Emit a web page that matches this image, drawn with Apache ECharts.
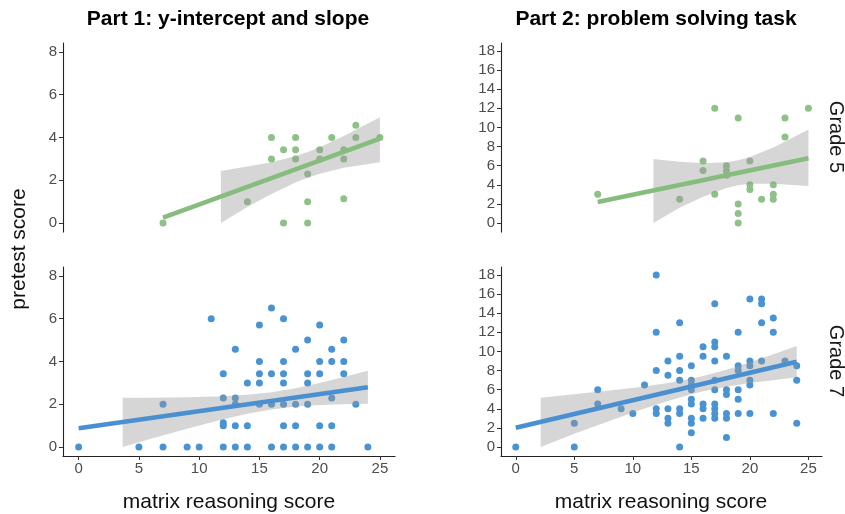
<!DOCTYPE html>
<html>
<head>
<meta charset="utf-8">
<script src="https://cdn.jsdelivr.net/npm/echarts@6/dist/echarts.min.js"></script>
<style>html,body{margin:0;padding:0;background:#fff}#c{width:845px;height:514px}</style>
</head>
<body>
<div id="c"></div>
<script>
// ---------- data ----------
const panelTitles = ['Part 1: y-intercept and slope', 'Part 2: problem solving task'];
const stripLabels = ['Grade 5', 'Grade 7'];
const xAxisTitle = 'matrix reasoning score';
const yAxisTitle = 'pretest score';
const xTicks = [0, 5, 10, 15, 20, 25];
const yTicksPart1 = [0, 2, 4, 6, 8];
const yTicksPart2 = [0, 2, 4, 6, 8, 10, 12, 14, 16, 18];

// Part 1, Grade 5
const p1g5X = [7,14,16,16,17,17,18,18,18,19,19,19,20,20,21,22,22,22,23,23,25];
const p1g5Y = [0,1,4,3,3.43,0,4,3.43,3,2.29,1,0,3.43,3,4,3.43,3,1.14,4.57,4,4];
const p1g5Fit = [[7,0.25],[25,3.95]];
const p1g5BandX  = [11.8,14,16,18,19,20,22,25];
const p1g5BandLo = [0,0.75,1.36,1.89,2.12,2.30,2.59,2.84];
const p1g5BandHi = [2.43,2.64,2.84,3.13,3.32,3.54,4.07,4.95];

// Part 2, Grade 5
const p2g5X = [7,14,16,16,17,17,18,18,18,19,19,19,19,20,20,20,21,22,22,22,23,23,25];
const p2g5Y = [3,2.5,6.5,5.5,12,3,6,5.5,5,11,2,1,0,6.5,4,3.5,2.5,4,3,2.5,11,9,12];
const p2g5Fit = [[7,2.2],[25,6.77]];
const p2g5BandX  = [11.76,14,16,18,19,20,22,25];
const p2g5BandLo = [0,1.59,2.74,3.67,3.96,4.11,4.12,3.87];
const p2g5BandHi = [6.69,6.41,6.26,6.35,6.56,6.91,7.90,9.80];

// Part 1, Grade 7
const p1g7X = [0,5,7,7,9,10,11,12,12,12,12,12,13,13,13,13,13,14,14,14,15,15,15,15,15,16,16,16,16,
  17,17,17,17,17,17,17,18,18,18,18,19,19,19,19,19,20,20,20,20,20,21,21,21,21,21,22,22,22,23,24];
const p1g7Y = [0,0,0,2,0,0,6,0,1,1.14,2.29,3.43,0,1,2,2.29,4.57,0,1,3,5.71,4,3.43,3,2,6.5,3.43,2,0,
  6,4,3.43,3,2,1,0,4.57,2,1,0,5,3.43,3,2,0,5.71,4,3.43,1,0,4.57,4,2.29,1,0,5,4,3.43,2,0];
const p1g7Fit = [[0,0.88],[24,2.80]];
const p1g7BandX  = [3.65,6,9,12,14,16,18,20,22,24];
const p1g7BandLo = [0,0.39,0.85,1.30,1.56,1.76,1.89,1.96,2.00,2.02];
const p1g7BandHi = [2.31,2.31,2.33,2.38,2.44,2.56,2.75,3.00,3.28,3.57];

// Part 2, Grade 7
const p2g7X = [0,5,5,7,7,9,10,11,12,12,12,12,12,13,13,13,13,13,14,14,14,14,14,14,14,
  15,15,15,15,15,15,15,15,15,16,16,16,16,16,17,17,17,17,17,17,17,17,17,17,
  18,18,18,18,18,18,19,19,19,19,19,19,20,20,20,20,20,20,21,21,21,21,22,22,22,23,24,24,24];
const p2g7Y = [0,0,2.5,6,4.5,4,3.5,6.5,18,12,8,4,3.5,9,7.5,4,3,2.5,13,9.5,8,7,4,3.5,0,
  8.5,7,6.5,6,5,4.5,3,2.5,1.5,10.5,9.5,4.5,4,3,15,11,10.5,9,7,6,4.5,4,3.5,3,
  9.5,6,5.5,3.5,3,1,12,8.5,8,6,5,3.5,15.5,9,8.5,7,6.5,3.5,15.5,15,13,9,13.5,12,3.5,9,8.5,7,2.5];
const p2g7Fit = [[0,2.02],[24,8.93]];
const p2g7BandX  = [2.13,5,8,11,13,15,16,18,20,22,24];
const p2g7BandLo = [0,1.40,2.73,4.02,4.82,5.53,5.83,6.31,6.70,7.00,7.29];
const p2g7BandHi = [5.16,5.52,5.91,6.34,6.70,7.15,7.43,8.09,8.86,9.70,10.57];

// ---------- chart ----------
const FONT = '"Liberation Sans", Arial, Helvetica, sans-serif';
const GREEN_PT = '#8ec088', GREEN_LN = '#86bc7e';
const BLUE_PT = '#4a93d2', BLUE_LN = '#4a90d1';

const grids = [
  {left: 63, top: 43, width: 332, height: 189},
  {left: 501, top: 43, width: 321, height: 189},
  {left: 63, top: 267, width: 332, height: 189},
  {left: 501, top: 267, width: 321, height: 189}
];

function xAx(i, showAxis, left) {
  return {
    type: 'value', gridIndex: i,
    min: left ? -1.3 : -1.26, max: left ? 26.25 : 26.16,
    show: showAxis,
    splitLine: {show: false},
    axisLine: {show: true, onZero: false, lineStyle: {color: '#222', width: 1.1}},
    axisTick: {show: true, length: 4, customValues: xTicks, lineStyle: {color: '#333', width: 1}},
    axisLabel: {show: true, customValues: xTicks, margin: 5, fontSize: 15, color: '#4d4d4d', fontFamily: FONT}
  };
}
function yAx(i, part1) {
  const t = part1 ? yTicksPart1 : yTicksPart2;
  return {
    type: 'value', gridIndex: i,
    min: part1 ? -0.42 : -0.94, max: part1 ? 8.42 : 18.84,
    splitLine: {show: false},
    axisLine: {show: true, onZero: false, lineStyle: {color: '#222', width: 1.1}},
    axisTick: {show: true, length: 4, customValues: t, lineStyle: {color: '#333', width: 1}},
    axisLabel: {show: true, customValues: t, margin: 6, fontSize: 15, color: '#4d4d4d', fontFamily: FONT}
  };
}

function panelSeries(idx, xs, ys, fit, bx, blo, bhi, ptColor, lnColor) {
  const pts = xs.map((v, i) => [v, ys[i]]);
  return [
    {
      type: 'scatter', xAxisIndex: idx, yAxisIndex: idx, data: pts,
      symbolSize: 7, itemStyle: {color: ptColor, opacity: 1}, z: 2, silent: true
    },
    {
      type: 'custom', xAxisIndex: idx, yAxisIndex: idx, z: 3, silent: true,
      data: bx.map((v, i) => [v, blo[i], bhi[i]]),
      encode: {x: 0, y: [1, 2]},
      renderItem: function (params, api) {
        if (params.dataIndex !== 0) return null;
        const poly = [];
        for (let i = 0; i < bx.length; i++) poly.push(api.coord([bx[i], bhi[i]]));
        for (let i = bx.length - 1; i >= 0; i--) poly.push(api.coord([bx[i], blo[i]]));
        return {type: 'polygon', shape: {points: poly}, style: {fill: 'rgba(153,153,153,0.4)'}};
      }
    },
    {
      type: 'line', xAxisIndex: idx, yAxisIndex: idx, data: fit, z: 4,
      symbol: 'none', silent: true,
      lineStyle: {color: lnColor, width: 4.6, cap: 'butt'}
    }
  ];
}

const textStyle = (txt, size, bold, color) => ({
  text: txt, font: (bold ? 'bold ' : '') + size + 'px ' + FONT, fill: color,
  textAlign: 'center', textVerticalAlign: 'middle', align: 'center', verticalAlign: 'middle'
});

const option = {
  animation: false,
  backgroundColor: '#fff',
  grid: grids,
  xAxis: [xAx(0, false, true), xAx(1, false, false), xAx(2, true, true), xAx(3, true, false)],
  yAxis: [yAx(0, true), yAx(1, false), yAx(2, true), yAx(3, false)],
  series: [].concat(
    panelSeries(0, p1g5X, p1g5Y, p1g5Fit, p1g5BandX, p1g5BandLo, p1g5BandHi, GREEN_PT, GREEN_LN),
    panelSeries(1, p2g5X, p2g5Y, p2g5Fit, p2g5BandX, p2g5BandLo, p2g5BandHi, GREEN_PT, GREEN_LN),
    panelSeries(2, p1g7X, p1g7Y, p1g7Fit, p1g7BandX, p1g7BandLo, p1g7BandHi, BLUE_PT, BLUE_LN),
    panelSeries(3, p2g7X, p2g7Y, p2g7Fit, p2g7BandX, p2g7BandLo, p2g7BandHi, BLUE_PT, BLUE_LN)
  ),
  graphic: [
    {type: 'text', x: 228, y: 19, style: textStyle(panelTitles[0], 21, true, '#000')},
    {type: 'text', x: 656, y: 19, style: textStyle(panelTitles[1], 21, true, '#000')},
    {type: 'text', x: 229, y: 502, style: textStyle(xAxisTitle, 21, false, '#111')},
    {type: 'text', x: 661, y: 502, style: textStyle(xAxisTitle, 21, false, '#111')},
    {type: 'text', x: 19, y: 249, rotation: Math.PI / 2, style: textStyle(yAxisTitle, 21, false, '#111')},
    {type: 'text', x: 836, y: 137, rotation: -Math.PI / 2, style: textStyle(stripLabels[0], 20, false, '#1a1a1a')},
    {type: 'text', x: 836, y: 361, rotation: -Math.PI / 2, style: textStyle(stripLabels[1], 20, false, '#1a1a1a')}
  ]
};

const chart = echarts.init(document.getElementById('c'), null, {renderer: 'canvas'});
chart.setOption(option);
</script>
</body>
</html>
